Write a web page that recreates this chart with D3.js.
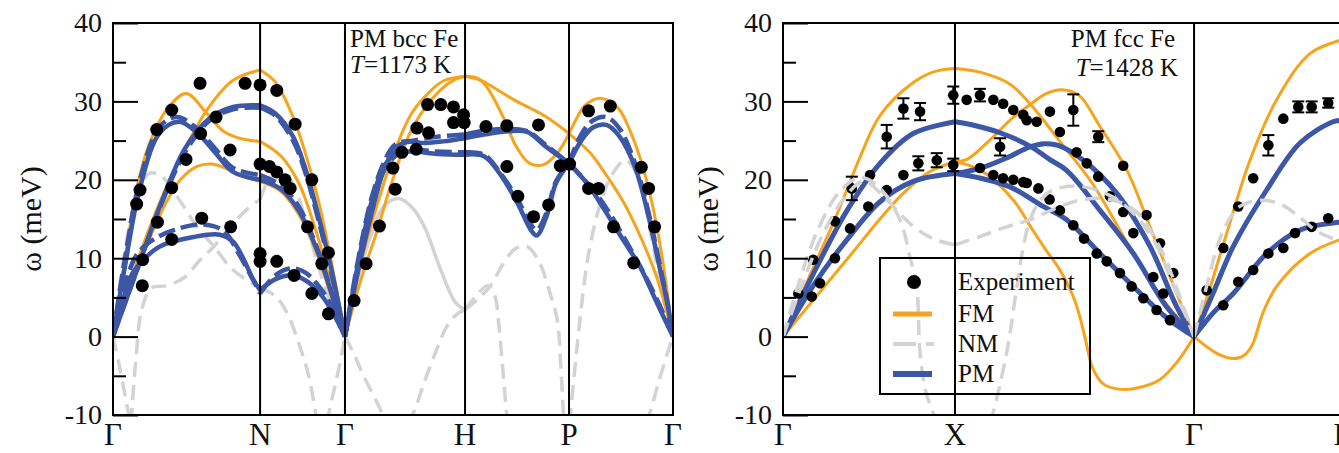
<!DOCTYPE html>
<html>
<head>
<meta charset="utf-8">
<script src="https://cdn.jsdelivr.net/npm/d3@7"></script>
<style>
  body { margin: 0; background: #fff; }
  svg { display: block; }
  text { font-family: "Liberation Serif", "Times New Roman", serif; fill: #111; }
</style>
</head>
<body>
<svg id="chart" width="1339" height="453"></svg>
<script>
// ---------- axes ----------
const yTicks = [-10, 0, 10, 20, 30, 40];
const yMinorTicks = [-5, 5, 15, 25, 35];
const bccTicks = [0, 1.225, 1.932, 2.932, 3.798, 4.664];
const bccTickLabels = ["Γ", "N", "Γ", "H", "P", "Γ"];
const fccTicks = [0, 1.0, 2.39, 3.256];
const fccTickLabels = ["Γ", "X", "Γ", "L"];

// ---------- bcc Fe, T = 1173 K : branches as [k, ω (meV)] ----------
const bccFM = [
  [[0,0],[0.1,10],[0.2,19],[0.3,24.5],[0.45,29],[0.61,31],[0.78,28.5],[0.92,26.2],[1.08,25.2],[1.225,24.9]],
  [[0,0],[0.2,9.5],[0.4,17.5],[0.6,24],[0.8,29.3],[1.0,32.7],[1.225,34]],
  [[0,0],[0.2,8.5],[0.4,15.8],[0.55,19.8],[0.7,21.7],[0.82,22],[0.95,21.4],[1.1,20.4],[1.225,19.8]],
  [[1.225,34],[1.35,32.5],[1.5,28],[1.6,23.5],[1.7,18],[1.8,11],[1.932,0]],
  [[1.225,24.9],[1.4,23],[1.55,19.5],[1.7,13],[1.82,6.5],[1.932,0]],
  [[1.225,19.8],[1.4,18.5],[1.55,15.5],[1.7,10.5],[1.82,5],[1.932,0]],
  [[1.932,0],[2.05,8.5],[2.17,15.3],[2.36,24.2],[2.48,28.3],[2.61,30.8],[2.75,32.6],[2.932,33.2]],
  [[1.932,0],[2.08,8],[2.2,13.5],[2.31,19.1],[2.5,26.8],[2.73,31.5],[2.85,32.8],[2.932,33.2]],
  [[2.932,33.2],[3.03,33],[3.11,31.9],[3.25,28],[3.36,24.2],[3.47,22.1],[3.58,21.9],[3.7,23.4],[3.798,25.9]],
  [[2.932,33.2],[3.06,32.7],[3.2,31.5],[3.34,30.2],[3.48,29.1],[3.61,28],[3.798,25.9]],
  [[3.798,25.9],[3.86,27.8],[3.92,29.3],[4.0,30.2],[4.06,30.4],[4.14,30],[4.22,28.9],[4.3,26.5],[4.39,22.8],[4.49,17],[4.58,9.5],[4.664,0]],
  [[3.798,25.9],[3.97,23.5],[4.1,20.8],[4.25,17.2],[4.4,12.5],[4.53,7.5],[4.664,0]]
];
const bccPM = [
  [[0,0],[0.1,9],[0.225,19],[0.39,26],[0.55,27.4],[0.7,26],[0.85,23.5],[1.0,21],[1.225,20]],
  [[0,0],[0.2,8.5],[0.4,17],[0.6,24],[0.8,27.8],[1.0,29.3],[1.225,29.5]],
  [[0,0],[0.08,4.5],[0.16,8],[0.253,9.8],[0.39,11.5],[0.67,12.7],[0.89,13],[1.0,12.1],[1.09,9.8],[1.16,7.5],[1.225,5.9]],
  [[1.225,29.5],[1.35,28.5],[1.5,25.5],[1.6,21.5],[1.7,16],[1.82,8.5],[1.932,0]],
  [[1.225,20],[1.4,18.8],[1.55,16],[1.7,11],[1.82,5.5],[1.932,0]],
  [[1.225,5.9],[1.35,7.3],[1.5,7.8],[1.62,7],[1.75,5],[1.85,2.5],[1.932,0]],
  [[1.932,0],[2.05,9],[2.15,15.5],[2.25,21],[2.35,24],[2.45,24.8],[2.6,24.7],[2.75,24.9],[2.932,25.3]],
  [[1.932,0],[2.05,10],[2.15,17],[2.25,21.5],[2.35,23.3],[2.5,23.6],[2.7,23.3],[2.932,23.2]],
  [[2.932,25.3],[3.1,25.8],[3.3,26.2],[3.45,26.1],[3.6,24.3],[3.798,22.1]],
  [[2.932,23.2],[3.09,23],[3.22,20.8],[3.37,17],[3.48,13.6],[3.53,12.9],[3.61,15.3],[3.69,19.6],[3.798,22.1]],
  [[3.798,22.1],[3.9,25],[4.0,26.7],[4.11,27.0],[4.22,25.5],[4.35,21.5],[4.45,16],[4.55,9],[4.62,4],[4.664,0]],
  [[3.798,22.1],[3.95,19.5],[4.1,16],[4.25,12.3],[4.39,8.9],[4.53,4.3],[4.664,0]]
];
const bccPMalt = [
  [[0,0],[0.1,10],[0.225,20],[0.39,26.8],[0.53,28],[0.68,26.8],[0.85,24],[1.0,21.5],[1.225,20.6]],
  [[0,0],[0.2,8.5],[0.4,16.8],[0.6,23.5],[0.8,27.5],[1.0,29],[1.225,29.2]],
  [[0,0],[0.08,5.5],[0.2,10.5],[0.35,12.5],[0.55,13.8],[0.75,14.3],[0.92,13.5],[1.05,10.5],[1.225,5.5]],
  [[1.225,29.2],[1.35,28.2],[1.5,25],[1.6,21],[1.7,15.5],[1.82,8],[1.932,0]],
  [[1.225,20.6],[1.4,19.3],[1.55,16.5],[1.7,11.3],[1.82,5.7],[1.932,0]],
  [[1.225,5.5],[1.35,7.8],[1.48,8.7],[1.6,8.2],[1.75,5.7],[1.85,3],[1.932,0]],
  [[1.932,0],[2.05,10.5],[2.15,17.5],[2.25,22],[2.35,24.5],[2.5,25],[2.7,25.5],[2.932,25.8]],
  [[1.932,0],[2.05,9.5],[2.15,16],[2.25,21],[2.35,23],[2.5,23.8],[2.7,23.6],[2.932,23.5]],
  [[2.932,25.8],[3.1,26.3],[3.3,26.5],[3.45,26.2],[3.6,24.5],[3.798,22.1]],
  [[2.932,23.5],[3.09,23.2],[3.22,21],[3.37,17.5],[3.48,14.3],[3.53,13.6],[3.61,15.8],[3.69,19.8],[3.798,22.1]],
  [[3.798,22.1],[3.9,25.8],[4.0,27.6],[4.11,28.0],[4.22,26.5],[4.35,22],[4.45,16.5],[4.55,9.5],[4.62,4.2],[4.664,0]],
  [[3.798,22.1],[3.95,19.6],[4.1,16.6],[4.25,12.8],[4.4,8.7],[4.55,4.1],[4.664,0]]
];
const bccNMsolid = [
  [[1.932,0],[2.05,8],[2.15,13],[2.25,16.5],[2.38,17.6],[2.5,16.3],[2.6,13.8],[2.72,8.9],[2.85,4.4],[2.932,3.4]]
];
const bccNMdash = [
  [[0,0],[0.05,-3.5],[0.1,-7.5],[0.145,-11]],
  [[0.15,-11],[0.19,-3],[0.24,3.5],[0.32,6.2],[0.45,6.5],[0.6,7.6],[0.72,9.7],[0.84,11.5],[0.95,13.5],[1.1,16],[1.225,17.5]],
  [[0,0],[0.1,11],[0.2,18],[0.3,20.8],[0.4,20.5],[0.55,17.5],[0.7,14],[0.84,11.5],[1.0,8.5],[1.225,6.2]],
  [[1.225,17.5],[1.3,20],[1.4,21],[1.5,19.5],[1.6,15],[1.7,9.5],[1.82,4],[1.932,0]],
  [[1.225,6.2],[1.35,5.2],[1.45,3],[1.55,-1],[1.63,-5],[1.7,-11]],
  [[1.78,-11],[1.81,-8.9],[1.86,-5.5],[1.89,-3.4],[1.932,0]],
  [[1.932,0],[2.0,-2],[2.09,-5.1],[2.23,-9.4],[2.27,-11]],
  [[2.45,-11],[2.5,-9.8],[2.6,-5.5],[2.7,-1.5],[2.78,1.3],[2.86,2.8],[2.932,3.4]],
  [[2.932,3.4],[3.04,4.8],[3.14,6.4],[3.25,9.3],[3.35,11.2],[3.447,11.5],[3.55,9.5],[3.63,6],[3.7,2.1],[3.73,-4],[3.755,-11]],
  [[2.932,3.4],[3.03,5.3],[3.12,6.5],[3.18,5.2],[3.21,2],[3.24,-3],[3.28,-10],[3.29,-11]],
  [[3.8,-11],[3.81,-9.8],[3.86,-2],[3.91,5],[3.96,10.5],[4.05,16.5],[4.15,20.5],[4.27,22.5],[4.38,20],[4.48,13],[4.57,6],[4.664,0]],
  [[4.44,-11],[4.47,-9.8],[4.55,-5.5],[4.62,-2],[4.664,0]]
];
const bccExp = [
  [0.225,18.7],[0.197,16.9],[0.364,26.4],[0.489,28.9],[0.725,32.3],[1.1,32.3],[1.225,32.1],[1.364,31.4],
  [0.858,28.0],[0.73,25.9],[1.517,27.1],[0.975,23.8],[0.608,22.6],[1.225,22.0],[1.303,21.7],[1.364,21.0],
  [1.433,20.0],[1.475,18.9],[1.656,20.0],[0.489,19.0],[0.37,14.6],[0.739,15.1],[0.98,14.0],[0.489,12.4],
  [0.247,9.8],[0.244,6.5],[1.225,10.6],[1.225,9.6],[1.364,9.6],[1.62,14.0],[1.794,10.7],[1.739,9.3],
  [1.508,7.8],[1.656,5.5],[1.794,2.9],
  [2.008,4.6],[2.108,9.3],[2.219,14.1],[2.35,18.8],[2.331,21.5],[2.406,23.5],[2.525,23.9],[2.531,26.6],
  [2.628,26.0],[2.62,29.6],[2.73,29.6],[2.836,29.3],[2.92,28.3],[2.836,27.3],[2.925,27.3],[3.106,26.8],
  [3.28,26.9],[3.544,27.0],[3.28,21.7],[3.372,17.9],[3.503,15.3],[3.628,16.8],[3.725,21.8],[3.803,22.0],
  [3.961,28.8],[4.142,29.4],[3.961,18.9],[4.044,18.9],[4.4,21.6],[4.461,18.9],[4.169,14.0],[4.511,14.0],[4.336,9.4]
];

// ---------- fcc Fe, T = 1428 K ----------
const fccFM = [
  [[0,0],[0.15,7.5],[0.312,15.5],[0.45,23],[0.564,28.2],[0.757,32.4],[0.88,33.8],[1.0,34.2]],
  [[0,0],[0.2,5.3],[0.4,10.6],[0.56,14.9],[0.7,18.3],[0.85,21],[1.0,22.3]],
  [[1.0,34.2],[1.15,33.7],[1.32,32.2],[1.44,29.6],[1.61,24.9],[1.8,19.5],[2.0,12],[2.2,5],[2.39,0]],
  [[1.0,22.3],[1.07,22.6],[1.2,25],[1.33,27.8],[1.436,29.6],[1.53,31],[1.62,31.5],[1.72,30.8],[1.843,26.8],[2.0,21.2],[2.134,14.0],[2.289,5.5],[2.39,0]],
  [[1.0,22.3],[1.15,21.2],[1.34,17.4],[1.44,14.0],[1.53,11],[1.61,8.5],[1.68,5.5],[1.72,3],[1.76,-0.5],[1.8,-4],[1.86,-6],[1.95,-6.7],[2.05,-6.6],[2.19,-5.5],[2.3,-3],[2.39,0]],
  [[2.39,0],[2.48,6],[2.58,13.2],[2.715,22.5],[2.87,30.2],[3.064,36.1],[3.256,37.9]],
  [[2.39,0],[2.52,-2.1],[2.62,-2.8],[2.68,-2.4],[2.73,-1],[2.754,0.5],[2.79,3],[2.87,6.4],[3.064,10.6],[3.256,12.5]]
];
const fccPM = [
  [[0,0],[0.176,8],[0.37,16],[0.564,22.1],[0.757,25.9],[1.0,27.4]],
  [[0,0],[0.176,6.5],[0.37,12.3],[0.564,17.2],[0.757,19.8],[1.0,20.8]],
  [[1.0,27.4],[1.12,26.9],[1.262,26.0],[1.436,24.3],[1.55,22.6],[1.649,21.2],[1.843,16.1],[2.037,10.6],[2.23,3.8],[2.39,0]],
  [[1.0,20.8],[1.15,21.5],[1.3,22.8],[1.436,24.2],[1.52,24.6],[1.6,24.4],[1.746,22.5],[1.94,18.3],[2.134,11.5],[2.289,3.8],[2.39,0]],
  [[1.0,20.8],[1.15,20.2],[1.32,19.1],[1.513,16.6],[1.649,14.9],[1.843,10.6],[2.037,6.4],[2.23,2.4],[2.39,0]],
  [[2.39,0],[2.5,5.5],[2.618,11.5],[2.812,18.7],[3.006,24.7],[3.198,27.4],[3.256,27.6]],
  [[2.39,0],[2.5,3],[2.618,5.5],[2.812,10.6],[3.006,13.6],[3.198,14.5],[3.256,14.6]]
];
const fccNM = [
  [[0,0],[0.08,6],[0.2,13.5],[0.33,18.5],[0.45,20.3],[0.56,19],[0.68,14.9],[0.74,10],[0.777,6.4],[0.797,-2.1],[0.83,-7],[0.874,-9.8],[0.89,-11]],
  [[0,0],[0.1,6],[0.22,12.5],[0.35,17.5],[0.47,19.8],[0.6,17.5],[0.75,14.2],[0.87,12.5],[1.0,11.7]],
  [[1.0,11.7],[1.15,12.8],[1.3,14],[1.436,14.9],[1.6,16.5],[1.75,17.5],[1.9,17.5],[2.05,16],[2.2,11],[2.3,5.5],[2.39,0]],
  [[1.2,-11],[1.22,-9.8],[1.3,-2.1],[1.36,6.4],[1.39,10.6],[1.436,14.9],[1.5,17.5],[1.57,18.7],[1.7,19.2],[1.85,18.5],[2.0,16.5],[2.15,12.5],[2.28,6],[2.39,0]],
  [[2.39,0],[2.47,7],[2.55,13],[2.65,16.5],[2.78,17.4],[2.9,16.8],[3.0,15.3],[3.1,13.5],[3.2,12.5],[3.256,12.3]]
];
// [k, ω, error]
const fccExp = [
  [0.089,5.5,0],[0.167,5.1,0],[0.176,9.8,0],[0.215,6.8,0],[0.302,14.7,0],[0.302,10.0,0],[0.39,13.8,0],
  [0.40,18.9,1.5],[0.496,16.6,0],[0.506,20.6,0],[0.603,18.7,0],[0.603,25.5,1.5],[0.70,20.6,0],[0.70,29.1,1.3],
  [0.797,28.7,1.1],[0.787,22.1,0.9],[0.894,22.5,0.9],[0.99,30.8,1.1],[0.99,21.9,0.8],[1.068,30.2,0],
  [1.145,30.8,0.8],[1.223,30.2,0],[1.28,29.7,0],[1.339,28.9,0],[1.397,28.3,0],[1.417,27.6,0],[1.475,27.4,0],
  [1.552,28.7,0],[1.688,28.9,2.0],[1.61,26.1,0],[1.707,23.5,0],[1.766,22.1,0],[1.833,25.5,0.7],[1.978,21.8,0],
  [1.833,20.4,0],[1.901,17.9,0],[1.978,15.9,0],[2.037,13.2,0],[2.114,15.5,0],[2.192,11.9,0],[2.153,7.6,0],
  [2.269,8.1,0],[2.211,5.5,0],
  [1.145,21.5,0],[1.223,20.6,0],[1.262,24.2,1.1],[1.28,20.2,0],[1.339,20.0,0],[1.397,19.7,0],[1.417,19.6,0],
  [1.485,18.9,0],[1.55,17.5,0],[1.61,16.1,0],[1.688,14.2,0],[1.75,12.5,0],[1.824,10.6,0],[1.882,9.6,0],
  [1.959,8.1,0],[2.027,6.4,0],[2.095,4.9,0],[2.172,3.4,0],[2.25,2.1,0],
  [2.463,5.9,0],[2.56,11.3,0],[2.647,16.6,0],[2.734,20.2,0],[2.822,24.4,1.3],[2.909,27.8,0],[2.996,29.3,0.7],
  [3.074,29.3,0.7],[3.17,29.8,0.6],
  [2.56,4.0,0],[2.647,7.0,0],[2.734,8.5,0],[2.822,10.6,0],[2.909,11.3,0],[2.977,13.2,0],[3.074,14.0,0],[3.17,15.1,0]
];

const legendItems = ["Experiment", "FM", "NM", "PM"];

// ---------- styles ----------
const C_FM = "#f7a41c", C_PM = "#3d57a7", C_NM = "#d3d3d3";
const SERIF = '"Liberation Serif", "Times New Roman", serif';
const TOP = 23, BOTTOM = 415;

const svg = d3.select("#chart");
const y = d3.scaleLinear().domain([-10, 40]).range([BOTTOM, TOP]);

function panel(id, x, ticks, tickLabels) {
  const [x0, x1] = x.range();
  const g = svg.append("g").attr("class", "panel-" + id);
  svg.append("defs").append("clipPath").attr("id", "clip-" + id)
    .append("rect").attr("x", x0).attr("y", TOP).attr("width", x1 - x0).attr("height", BOTTOM - TOP);
  const plot = g.append("g").attr("clip-path", `url(#clip-${id})`);
  const line = d3.line().x(d => x(d[0])).y(d => y(d[1])).curve(d3.curveCatmullRom.alpha(0.5));

  // high-symmetry verticals
  g.selectAll(null).data(ticks.slice(1, -1)).join("line")
    .attr("x1", d => x(d)).attr("x2", d => x(d)).attr("y1", TOP).attr("y2", BOTTOM)
    .attr("stroke", "#000").attr("stroke-width", 2);

  // y ticks (inward)
  const major = d3.axisLeft(y).tickValues(yTicks).tickSizeInner(-25).tickSizeOuter(0)
    .tickPadding(11).tickFormat(d => String(d));
  const minor = d3.axisLeft(y).tickValues(yMinorTicks).tickSizeInner(-13).tickSizeOuter(0).tickFormat("");
  [major, minor].forEach(ax => {
    const a = g.append("g").attr("transform", `translate(${x0},0)`).call(ax);
    a.attr("font-family", null).attr("font-size", null);
    a.select(".domain").remove();
    a.selectAll("line").attr("stroke", "#000").attr("stroke-width", 2);
    a.selectAll("text").style("font-family", SERIF).style("font-size", "28px").attr("fill", "#111");
  });

  // x labels
  g.selectAll(null).data(ticks).join("text")
    .attr("x", d => x(d)).attr("y", 445).attr("text-anchor", "middle")
    .style("font-family", SERIF).style("font-size", "31px")
    .text((d, i) => tickLabels[i]);

  // y title
  g.append("text").attr("transform", `translate(${id === "bcc" ? 30 : 707},219) rotate(-90)`)
    .attr("text-anchor", "middle").attr("dominant-baseline", "central")
    .style("font-family", SERIF).style("font-size", "30px")
    .text("ω (meV)");

  return { g, plot, line, x };
}

function branches(p, data, color, width, dash) {
  p.plot.append("g").selectAll("path").data(data).join("path")
    .attr("d", p.line).attr("fill", "none").attr("stroke", color).attr("stroke-width", width)
    .attr("stroke-linecap", "butt").attr("stroke-linejoin", "round")
    .attr("stroke-dasharray", dash || null);
}

function frame(p) {
  const [x0, x1] = p.x.range();
  p.g.append("rect").attr("x", x0).attr("y", TOP).attr("width", x1 - x0).attr("height", BOTTOM - TOP)
    .attr("fill", "none").attr("stroke", "#000").attr("stroke-width", 2);
}

function label(sel, x, yPos, anchor, parts) {
  const t = sel.append("text").attr("x", x).attr("y", yPos).attr("text-anchor", anchor)
    .style("font-family", SERIF).style("font-size", "25px");
  parts.forEach(([s, italic]) => t.append("tspan").style("font-style", italic ? "italic" : "normal").text(s));
}

// ---------- left: bcc ----------
const L = panel("bcc", d3.scaleLinear().domain([0, 4.664]).range([113, 673]), bccTicks, bccTickLabels);
branches(L, bccNMsolid, C_NM, 3.5);
branches(L, bccNMdash, C_NM, 3.5, "15 8");
branches(L, bccFM, C_FM, 3);
branches(L, bccPMalt, C_PM, 4.5, "17 6");
branches(L, bccPM, C_PM, 4.5);
L.plot.append("g").selectAll("circle").data(bccExp).join("circle")
  .attr("cx", d => L.x(d[0])).attr("cy", d => y(d[1])).attr("r", 6.5).attr("fill", "#000");
frame(L);
label(L.g, 350, 47, "start", [["PM bcc Fe", false]]);
label(L.g, 350, 73, "start", [["T", true], ["=1173 K", false]]);

// ---------- right: fcc ----------
const R = panel("fcc", d3.scaleLinear().domain([0, 3.256]).range([783, 1343]), fccTicks, fccTickLabels);
branches(R, fccFM, C_FM, 3);
branches(R, fccPM, C_PM, 5);
const eb = R.plot.append("g").selectAll("g").data(fccExp.filter(d => d[2] > 0)).join("g")
  .attr("stroke", "#000").attr("stroke-width", 2);
eb.append("line").attr("x1", d => R.x(d[0])).attr("x2", d => R.x(d[0]))
  .attr("y1", d => y(d[1] - d[2])).attr("y2", d => y(d[1] + d[2]));
eb.append("line").attr("x1", d => R.x(d[0]) - 6).attr("x2", d => R.x(d[0]) + 6)
  .attr("y1", d => y(d[1] - d[2])).attr("y2", d => y(d[1] - d[2]));
eb.append("line").attr("x1", d => R.x(d[0]) - 6).attr("x2", d => R.x(d[0]) + 6)
  .attr("y1", d => y(d[1] + d[2])).attr("y2", d => y(d[1] + d[2]));
R.plot.append("g").selectAll("circle").data(fccExp).join("circle")
  .attr("cx", d => R.x(d[0])).attr("cy", d => y(d[1])).attr("r", 5.3).attr("fill", "#000");
branches(R, fccNM, C_NM, 3.5, "15 8");
frame(R);
label(R.g, 1175, 47, "end", [["PM fcc Fe", false]]);
label(R.g, 1178, 76, "end", [["T", true], ["=1428 K", false]]);

// legend
const lg = svg.append("g");
lg.append("rect").attr("x", 880).attr("y", 258).attr("width", 210).attr("height", 136)
  .attr("fill", "none").attr("stroke", "#000").attr("stroke-width", 2);
const rowsY = [282, 314, 344, 374];
lg.append("circle").attr("cx", 914).attr("cy", rowsY[0]).attr("r", 7).attr("fill", "#000");
lg.append("line").attr("x1", 893).attr("x2", 932).attr("y1", rowsY[1]).attr("y2", rowsY[1])
  .attr("stroke", C_FM).attr("stroke-width", 5);
lg.append("line").attr("x1", 893).attr("x2", 934).attr("y1", rowsY[2]).attr("y2", rowsY[2])
  .attr("stroke", C_NM).attr("stroke-width", 4).attr("stroke-dasharray", "23 10");
lg.append("line").attr("x1", 893).attr("x2", 932).attr("y1", rowsY[3]).attr("y2", rowsY[3])
  .attr("stroke", C_PM).attr("stroke-width", 6);
lg.selectAll("text").data(legendItems).join("text")
  .attr("x", 958).attr("y", (d, i) => rowsY[i] + 8)
  .style("font-family", SERIF).style("font-size", "25px").text(d => d);
</script>
</body>
</html>
